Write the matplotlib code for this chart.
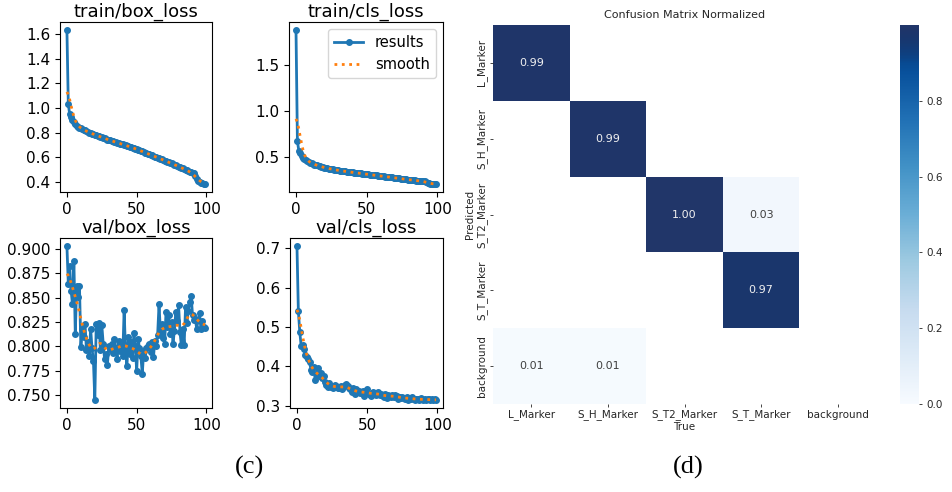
import matplotlib

matplotlib.use("Agg")
import matplotlib.pyplot as plt
import numpy as np
from matplotlib.colors import ListedColormap

W, H = 952, 492

epochs = np.arange(100)

train_box_loss = [
    1.635, 1.030, 0.950, 0.925, 0.905, 0.885, 0.870, 0.858, 0.850, 0.842,
    0.835, 0.828, 0.822, 0.818, 0.812, 0.806, 0.800, 0.797, 0.793, 0.788,
    0.784, 0.780, 0.776, 0.772, 0.768, 0.763, 0.758, 0.754, 0.750, 0.745,
    0.742, 0.738, 0.734, 0.730, 0.727, 0.724, 0.720, 0.716, 0.712, 0.709,
    0.705, 0.702, 0.698, 0.694, 0.690, 0.687, 0.683, 0.679, 0.675, 0.671,
    0.667, 0.662, 0.657, 0.653, 0.648, 0.643, 0.639, 0.635, 0.630, 0.625,
    0.621, 0.617, 0.612, 0.607, 0.603, 0.598, 0.594, 0.589, 0.584, 0.579,
    0.574, 0.570, 0.565, 0.560, 0.556, 0.551, 0.546, 0.541, 0.536, 0.531,
    0.526, 0.521, 0.516, 0.511, 0.506, 0.500, 0.495, 0.490, 0.485, 0.481,
    0.476, 0.470, 0.450, 0.425, 0.410, 0.402, 0.396, 0.390, 0.386, 0.382,
]

train_cls_loss = [
    1.890, 0.670, 0.570, 0.540, 0.515, 0.495, 0.478, 0.465, 0.455, 0.446,
    0.438, 0.431, 0.424, 0.418, 0.413, 0.408, 0.403, 0.398, 0.394, 0.390,
    0.386, 0.382, 0.378, 0.375, 0.372, 0.369, 0.366, 0.363, 0.360, 0.358,
    0.355, 0.353, 0.350, 0.348, 0.346, 0.344, 0.341, 0.339, 0.337, 0.335,
    0.333, 0.331, 0.329, 0.327, 0.325, 0.323, 0.321, 0.319, 0.317, 0.315,
    0.313, 0.311, 0.309, 0.307, 0.305, 0.303, 0.301, 0.299, 0.297, 0.295,
    0.293, 0.291, 0.289, 0.287, 0.285, 0.283, 0.281, 0.279, 0.277, 0.275,
    0.273, 0.271, 0.269, 0.267, 0.265, 0.263, 0.261, 0.259, 0.257, 0.255,
    0.253, 0.251, 0.249, 0.247, 0.245, 0.243, 0.241, 0.240, 0.239, 0.238,
    0.237, 0.236, 0.228, 0.218, 0.212, 0.209, 0.207, 0.205, 0.204, 0.203,
]

val_box_loss = [
    0.903, 0.864, 0.882, 0.857, 0.843, 0.887, 0.813, 0.862, 0.851, 0.862,
    0.799, 0.818, 0.810, 0.823, 0.796, 0.805, 0.790, 0.818, 0.798, 0.785,
    0.745, 0.823, 0.812, 0.824, 0.796, 0.822, 0.803, 0.787, 0.792, 0.781,
    0.800, 0.797, 0.803, 0.793, 0.808, 0.798, 0.787, 0.806, 0.795, 0.800,
    0.790, 0.837, 0.795, 0.780, 0.810, 0.792, 0.805, 0.788, 0.814, 0.800,
    0.775, 0.808, 0.798, 0.790, 0.772, 0.795, 0.788, 0.798, 0.800, 0.803,
    0.794, 0.805, 0.789, 0.806, 0.800, 0.812, 0.843, 0.815, 0.823, 0.809,
    0.803, 0.835, 0.820, 0.832, 0.813, 0.825, 0.803, 0.816, 0.835, 0.826,
    0.842, 0.815, 0.801, 0.818, 0.802, 0.840, 0.824, 0.836, 0.845, 0.852,
    0.832, 0.827, 0.828, 0.818, 0.827, 0.834, 0.818, 0.826, 0.820, 0.819,
]

val_cls_loss = [
    0.707, 0.541, 0.488, 0.452, 0.455, 0.445, 0.430, 0.425, 0.420, 0.412,
    0.390, 0.385, 0.398, 0.365, 0.378, 0.395, 0.375, 0.383, 0.370, 0.375,
    0.360, 0.352, 0.348, 0.358, 0.347, 0.350, 0.345, 0.352, 0.350, 0.345,
    0.346, 0.350, 0.342, 0.348, 0.352, 0.355, 0.350, 0.345, 0.342, 0.335,
    0.345, 0.330, 0.342, 0.335, 0.338, 0.332, 0.335, 0.338, 0.325, 0.338,
    0.342, 0.330, 0.330, 0.325, 0.335, 0.330, 0.328, 0.333, 0.335, 0.327,
    0.330, 0.325, 0.322, 0.330, 0.320, 0.327, 0.325, 0.322, 0.328, 0.323,
    0.327, 0.325, 0.318, 0.322, 0.320, 0.322, 0.320, 0.318, 0.323, 0.315,
    0.320, 0.316, 0.322, 0.318, 0.315, 0.318, 0.316, 0.314, 0.319, 0.317,
    0.315, 0.318, 0.314, 0.316, 0.317, 0.315, 0.316, 0.314, 0.316, 0.314,
]

train_box_ticks = [0.4, 0.6, 0.8, 1.0, 1.2, 1.4, 1.6]
train_cls_ticks = [0.5, 1.0, 1.5]
val_box_ticks = [0.750, 0.775, 0.800, 0.825, 0.850, 0.875, 0.900]
val_cls_ticks = [0.3, 0.4, 0.5, 0.6, 0.7]

class_names = ["L_Marker", "S_H_Marker", "S_T2_Marker", "S_T_Marker", "background"]

# rows = predicted, columns = true
confusion = np.array([
    [0.99, 0.00, 0.00, 0.00, 0.00],
    [0.00, 0.99, 0.00, 0.00, 0.00],
    [0.00, 0.00, 1.00, 0.03, 0.00],
    [0.00, 0.00, 0.00, 0.97, 0.00],
    [0.01, 0.01, 0.00, 0.00, 0.00],
])


def px_rect(left, top, right, bottom):
    """Axes rect in figure fractions from pixel edges (origin top-left)."""
    return [left / W, 1 - bottom / H, (right - left) / W, (bottom - top) / H]


def gaussian_smooth(y, sigma=3.0):
    """1-D gaussian smoothing with mirrored edges."""
    y = np.asarray(y, dtype=float)
    radius = int(4 * sigma + 0.5)
    k = np.arange(-radius, radius + 1)
    w = np.exp(-0.5 * (k / sigma) ** 2)
    w /= w.sum()
    padded = np.pad(y, radius, mode="symmetric")
    return np.convolve(padded, w, mode="valid")


def navy_blues():
    """Blues with a slightly greyer navy at the top end."""
    x = np.linspace(0, 1, 256)
    colors = plt.get_cmap("Blues")(x)
    t = np.clip((x - 0.9) / 0.1, 0, 1)[:, None]
    target = np.array([0.13, 0.21, 0.41])
    colors[:, :3] = colors[:, :3] * (1 - t) + target * t
    return ListedColormap(colors)


fig = plt.figure(figsize=(W / 100, H / 100), dpi=100)

loss_panels = [
    ("train/box_loss", train_box_loss, train_box_ticks, px_rect(60, 22, 212, 192)),
    ("train/cls_loss", train_cls_loss, train_cls_ticks, px_rect(289, 22, 443, 192)),
    ("val/box_loss", val_box_loss, val_box_ticks, px_rect(60, 238, 212, 408)),
    ("val/cls_loss", val_cls_loss, val_cls_ticks, px_rect(290, 238, 443, 408)),
]

for i, (title, values, yticks, rect) in enumerate(loss_panels):
    ax = fig.add_axes(rect)
    ax.plot(epochs, values, marker=".", label="results", linewidth=2, markersize=8, color="C0")
    ax.plot(epochs, gaussian_smooth(values), ":", label="smooth", linewidth=2, color="C1")
    ax.set_title(title, fontsize=13, pad=4)
    ax.set_xticks([0, 50, 100])
    ax.set_yticks(yticks)
    ax.tick_params(labelsize=11, length=3.5)
    if i == 1:
        ax.legend(loc="upper right", fontsize=10.5)

# normalized confusion matrix
hm_ax = fig.add_axes(px_rect(493, 25, 876, 404))
cb_ax = fig.add_axes(px_rect(900, 25, 919, 404))
text_col = "#262626"
masked = np.ma.masked_less(confusion, 0.005)
cmap = navy_blues()
mesh = hm_ax.pcolormesh(masked, cmap=cmap, vmin=0.0, vmax=confusion.max())
hm_ax.set_facecolor("white")
hm_ax.set_xlim(0, 5)
hm_ax.set_ylim(5, 0)
for r in range(confusion.shape[0]):
    for c in range(confusion.shape[1]):
        v = confusion[r, c]
        if v < 0.005:
            continue
        rgb = np.array(cmap(v / confusion.max())[:3])
        lum = 0.2126 * rgb[0] + 0.7152 * rgb[1] + 0.0722 * rgb[2]
        hm_ax.text(c + 0.5, r + 0.5, f"{v:.2f}", ha="center", va="center",
                   fontsize=8, color="#f0f0f0" if lum < 0.408 else "#404040")
for side in hm_ax.spines.values():
    side.set_visible(False)
hm_ax.set_xticks(np.arange(5) + 0.5)
hm_ax.set_yticks(np.arange(5) + 0.5)
hm_ax.set_xticklabels(class_names, fontsize=7.5, color=text_col)
hm_ax.set_yticklabels(class_names, fontsize=7.5, color=text_col, rotation=90, va="center")
hm_ax.tick_params(length=2, width=0.6, pad=2, colors=text_col)
hm_ax.set_xlabel("True", fontsize=7.5, color=text_col, labelpad=1)
hm_ax.set_ylabel("Predicted", fontsize=7.5, color=text_col, labelpad=1)
hm_ax.set_title("Confusion Matrix Normalized", fontsize=8, color=text_col, pad=5)

cbar = fig.colorbar(mesh, cax=cb_ax)
cbar.outline.set_visible(False)
cbar.set_ticks([0.0, 0.2, 0.4, 0.6, 0.8])
cbar.ax.tick_params(labelsize=7.5, length=2, width=0.6, colors=text_col)

# panel captions
fig.text(250 / W, 1 - 467 / H, "(c)", ha="center", va="center",
         fontsize=19, family="Liberation Serif")
fig.text(688 / W, 1 - 467 / H, "(d)", ha="center", va="center",
         fontsize=19, family="Liberation Serif")

fig.savefig("out.png", dpi=100)
plt.close(fig)
